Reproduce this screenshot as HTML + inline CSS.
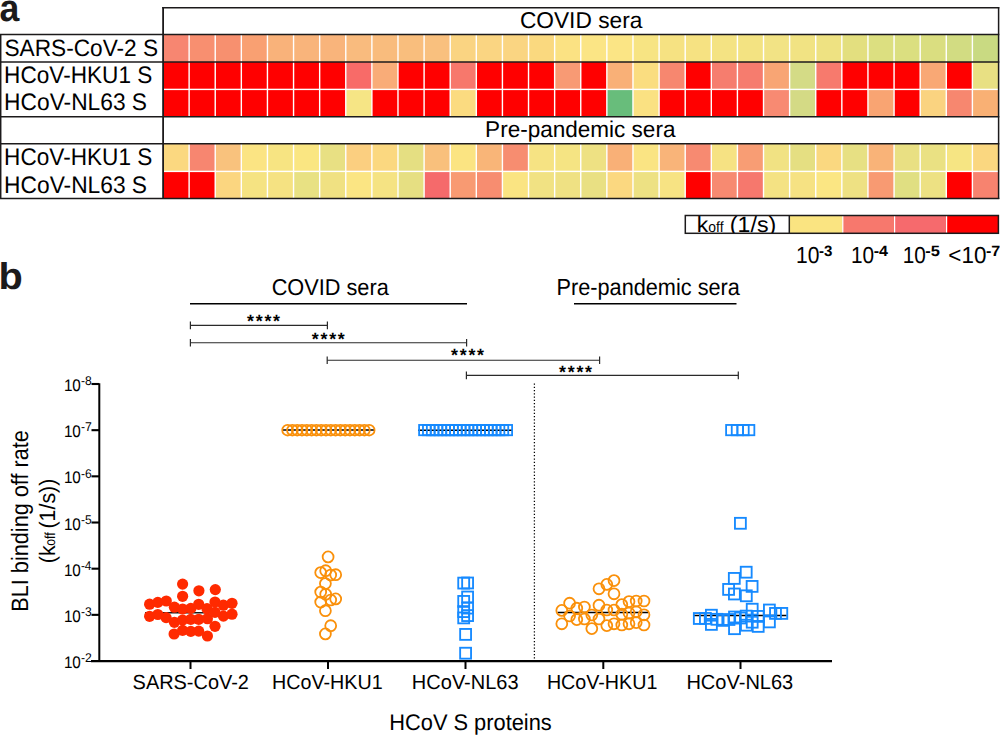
<!DOCTYPE html>
<html><head><meta charset="utf-8"><style>
html,body{margin:0;padding:0;background:#fff;width:1000px;height:735px;overflow:hidden;font-family:"Liberation Sans",sans-serif;}
svg{display:block;}
</style></head><body>
<svg width="1000" height="735" viewBox="0 0 1000 735" style="text-rendering:geometricPrecision">
<rect width="1000" height="735" fill="#fff"/>
<text transform="translate(-0.46,21.00) scale(0.9383,1.0000)" font-family="Liberation Sans, sans-serif" font-size="38" font-weight="bold" fill="#1C1A1B">a</text>
<text transform="translate(-1.61,288.50) scale(1.0458,0.9850)" font-family="Liberation Sans, sans-serif" font-size="38" font-weight="bold" fill="#1C1A1B">b</text>
<rect x="163.00" y="34.5" width="26.16" height="27.5" fill="#F78671"/>
<rect x="189.11" y="34.5" width="26.16" height="27.5" fill="#F88F70"/>
<rect x="215.22" y="34.5" width="26.16" height="27.5" fill="#F7906F"/>
<rect x="241.33" y="34.5" width="26.16" height="27.5" fill="#F9A072"/>
<rect x="267.44" y="34.5" width="26.16" height="27.5" fill="#F9B27A"/>
<rect x="293.55" y="34.5" width="26.16" height="27.5" fill="#F9B47B"/>
<rect x="319.66" y="34.5" width="26.16" height="27.5" fill="#F9B47B"/>
<rect x="345.77" y="34.5" width="26.16" height="27.5" fill="#F9BB7E"/>
<rect x="371.88" y="34.5" width="26.16" height="27.5" fill="#F9BC7D"/>
<rect x="397.98" y="34.5" width="26.16" height="27.5" fill="#F9BE7D"/>
<rect x="424.09" y="34.5" width="26.16" height="27.5" fill="#F9C07E"/>
<rect x="450.20" y="34.5" width="26.16" height="27.5" fill="#FAD482"/>
<rect x="476.31" y="34.5" width="26.16" height="27.5" fill="#FAD582"/>
<rect x="502.42" y="34.5" width="26.16" height="27.5" fill="#FAD582"/>
<rect x="528.53" y="34.5" width="26.16" height="27.5" fill="#FAD97F"/>
<rect x="554.64" y="34.5" width="26.16" height="27.5" fill="#FBE283"/>
<rect x="580.75" y="34.5" width="26.16" height="27.5" fill="#FBE585"/>
<rect x="606.86" y="34.5" width="26.16" height="27.5" fill="#FBE585"/>
<rect x="632.97" y="34.5" width="26.16" height="27.5" fill="#F7E483"/>
<rect x="659.08" y="34.5" width="26.16" height="27.5" fill="#F6E282"/>
<rect x="685.19" y="34.5" width="26.16" height="27.5" fill="#F6E282"/>
<rect x="711.30" y="34.5" width="26.16" height="27.5" fill="#F4E383"/>
<rect x="737.41" y="34.5" width="26.16" height="27.5" fill="#F3E382"/>
<rect x="763.52" y="34.5" width="26.16" height="27.5" fill="#F2E385"/>
<rect x="789.62" y="34.5" width="26.16" height="27.5" fill="#F1E383"/>
<rect x="815.73" y="34.5" width="26.16" height="27.5" fill="#EEE282"/>
<rect x="841.84" y="34.5" width="26.16" height="27.5" fill="#E3DF7F"/>
<rect x="867.95" y="34.5" width="26.16" height="27.5" fill="#DCDF80"/>
<rect x="894.06" y="34.5" width="26.16" height="27.5" fill="#DBDF80"/>
<rect x="920.17" y="34.5" width="26.16" height="27.5" fill="#DADE80"/>
<rect x="946.28" y="34.5" width="26.16" height="27.5" fill="#D2DC82"/>
<rect x="972.39" y="34.5" width="26.16" height="27.5" fill="#C9DA82"/>
<rect x="163.00" y="62.0" width="26.16" height="27.0" fill="#FF0000"/>
<rect x="189.11" y="62.0" width="26.16" height="27.0" fill="#FF0000"/>
<rect x="215.22" y="62.0" width="26.16" height="27.0" fill="#FF0000"/>
<rect x="241.33" y="62.0" width="26.16" height="27.0" fill="#FF0000"/>
<rect x="267.44" y="62.0" width="26.16" height="27.0" fill="#FF0000"/>
<rect x="293.55" y="62.0" width="26.16" height="27.0" fill="#FF0000"/>
<rect x="319.66" y="62.0" width="26.16" height="27.0" fill="#FF0000"/>
<rect x="345.77" y="62.0" width="26.16" height="27.0" fill="#F86B68"/>
<rect x="371.88" y="62.0" width="26.16" height="27.0" fill="#F9AC78"/>
<rect x="397.98" y="62.0" width="26.16" height="27.0" fill="#FF0000"/>
<rect x="424.09" y="62.0" width="26.16" height="27.0" fill="#FF0000"/>
<rect x="450.20" y="62.0" width="26.16" height="27.0" fill="#F7786C"/>
<rect x="476.31" y="62.0" width="26.16" height="27.0" fill="#FF0000"/>
<rect x="502.42" y="62.0" width="26.16" height="27.0" fill="#FF0000"/>
<rect x="528.53" y="62.0" width="26.16" height="27.0" fill="#FF0000"/>
<rect x="554.64" y="62.0" width="26.16" height="27.0" fill="#F89A74"/>
<rect x="580.75" y="62.0" width="26.16" height="27.0" fill="#FF0000"/>
<rect x="606.86" y="62.0" width="26.16" height="27.0" fill="#F9B077"/>
<rect x="632.97" y="62.0" width="26.16" height="27.0" fill="#FADD80"/>
<rect x="659.08" y="62.0" width="26.16" height="27.0" fill="#F7876F"/>
<rect x="685.19" y="62.0" width="26.16" height="27.0" fill="#FF0000"/>
<rect x="711.30" y="62.0" width="26.16" height="27.0" fill="#F67D6E"/>
<rect x="737.41" y="62.0" width="26.16" height="27.0" fill="#F67C6E"/>
<rect x="763.52" y="62.0" width="26.16" height="27.0" fill="#F8A574"/>
<rect x="789.62" y="62.0" width="26.16" height="27.0" fill="#D4DB86"/>
<rect x="815.73" y="62.0" width="26.16" height="27.0" fill="#F77A6D"/>
<rect x="841.84" y="62.0" width="26.16" height="27.0" fill="#FF0000"/>
<rect x="867.95" y="62.0" width="26.16" height="27.0" fill="#FF0000"/>
<rect x="894.06" y="62.0" width="26.16" height="27.0" fill="#FF0000"/>
<rect x="920.17" y="62.0" width="26.16" height="27.0" fill="#F9A875"/>
<rect x="946.28" y="62.0" width="26.16" height="27.0" fill="#FF0000"/>
<rect x="972.39" y="62.0" width="26.16" height="27.0" fill="#E8E083"/>
<rect x="163.00" y="89.0" width="26.16" height="27.5" fill="#FF0000"/>
<rect x="189.11" y="89.0" width="26.16" height="27.5" fill="#FF0000"/>
<rect x="215.22" y="89.0" width="26.16" height="27.5" fill="#FF0000"/>
<rect x="241.33" y="89.0" width="26.16" height="27.5" fill="#FF0000"/>
<rect x="267.44" y="89.0" width="26.16" height="27.5" fill="#FF0000"/>
<rect x="293.55" y="89.0" width="26.16" height="27.5" fill="#FF0000"/>
<rect x="319.66" y="89.0" width="26.16" height="27.5" fill="#FF0000"/>
<rect x="345.77" y="89.0" width="26.16" height="27.5" fill="#F6E585"/>
<rect x="371.88" y="89.0" width="26.16" height="27.5" fill="#FF0000"/>
<rect x="397.98" y="89.0" width="26.16" height="27.5" fill="#FF0000"/>
<rect x="424.09" y="89.0" width="26.16" height="27.5" fill="#FF0000"/>
<rect x="450.20" y="89.0" width="26.16" height="27.5" fill="#FBDB80"/>
<rect x="476.31" y="89.0" width="26.16" height="27.5" fill="#FF0000"/>
<rect x="502.42" y="89.0" width="26.16" height="27.5" fill="#FF0000"/>
<rect x="528.53" y="89.0" width="26.16" height="27.5" fill="#FF0000"/>
<rect x="554.64" y="89.0" width="26.16" height="27.5" fill="#FF0000"/>
<rect x="580.75" y="89.0" width="26.16" height="27.5" fill="#FF0000"/>
<rect x="606.86" y="89.0" width="26.16" height="27.5" fill="#68BD7B"/>
<rect x="632.97" y="89.0" width="26.16" height="27.5" fill="#FAE182"/>
<rect x="659.08" y="89.0" width="26.16" height="27.5" fill="#FF0000"/>
<rect x="685.19" y="89.0" width="26.16" height="27.5" fill="#FF0000"/>
<rect x="711.30" y="89.0" width="26.16" height="27.5" fill="#FF0000"/>
<rect x="737.41" y="89.0" width="26.16" height="27.5" fill="#FF0000"/>
<rect x="763.52" y="89.0" width="26.16" height="27.5" fill="#F88A72"/>
<rect x="789.62" y="89.0" width="26.16" height="27.5" fill="#D4DA85"/>
<rect x="815.73" y="89.0" width="26.16" height="27.5" fill="#FF0000"/>
<rect x="841.84" y="89.0" width="26.16" height="27.5" fill="#FF0000"/>
<rect x="867.95" y="89.0" width="26.16" height="27.5" fill="#F9A472"/>
<rect x="894.06" y="89.0" width="26.16" height="27.5" fill="#FF0000"/>
<rect x="920.17" y="89.0" width="26.16" height="27.5" fill="#FAD380"/>
<rect x="946.28" y="89.0" width="26.16" height="27.5" fill="#F7876F"/>
<rect x="972.39" y="89.0" width="26.16" height="27.5" fill="#F9B074"/>
<rect x="163.00" y="144.0" width="26.16" height="27.0" fill="#FBD880"/>
<rect x="189.11" y="144.0" width="26.16" height="27.0" fill="#F78670"/>
<rect x="215.22" y="144.0" width="26.16" height="27.0" fill="#F9C27D"/>
<rect x="241.33" y="144.0" width="26.16" height="27.0" fill="#FBE483"/>
<rect x="267.44" y="144.0" width="26.16" height="27.0" fill="#F7E482"/>
<rect x="293.55" y="144.0" width="26.16" height="27.0" fill="#FAE682"/>
<rect x="319.66" y="144.0" width="26.16" height="27.0" fill="#E8E083"/>
<rect x="345.77" y="144.0" width="26.16" height="27.0" fill="#FBCF80"/>
<rect x="371.88" y="144.0" width="26.16" height="27.0" fill="#FBD880"/>
<rect x="397.98" y="144.0" width="26.16" height="27.0" fill="#E5DF82"/>
<rect x="424.09" y="144.0" width="26.16" height="27.0" fill="#F9C07C"/>
<rect x="450.20" y="144.0" width="26.16" height="27.0" fill="#FBE482"/>
<rect x="476.31" y="144.0" width="26.16" height="27.0" fill="#F9B578"/>
<rect x="502.42" y="144.0" width="26.16" height="27.0" fill="#F78D70"/>
<rect x="528.53" y="144.0" width="26.16" height="27.0" fill="#F6E383"/>
<rect x="554.64" y="144.0" width="26.16" height="27.0" fill="#F5E483"/>
<rect x="580.75" y="144.0" width="26.16" height="27.0" fill="#EEE183"/>
<rect x="606.86" y="144.0" width="26.16" height="27.0" fill="#F9B077"/>
<rect x="632.97" y="144.0" width="26.16" height="27.0" fill="#FAE483"/>
<rect x="659.08" y="144.0" width="26.16" height="27.0" fill="#F9B479"/>
<rect x="685.19" y="144.0" width="26.16" height="27.0" fill="#F78A71"/>
<rect x="711.30" y="144.0" width="26.16" height="27.0" fill="#F6E283"/>
<rect x="737.41" y="144.0" width="26.16" height="27.0" fill="#F89D74"/>
<rect x="763.52" y="144.0" width="26.16" height="27.0" fill="#F1E283"/>
<rect x="789.62" y="144.0" width="26.16" height="27.0" fill="#E5DF82"/>
<rect x="815.73" y="144.0" width="26.16" height="27.0" fill="#FAD880"/>
<rect x="841.84" y="144.0" width="26.16" height="27.0" fill="#E7E083"/>
<rect x="867.95" y="144.0" width="26.16" height="27.0" fill="#F9B378"/>
<rect x="894.06" y="144.0" width="26.16" height="27.0" fill="#E9E083"/>
<rect x="920.17" y="144.0" width="26.16" height="27.0" fill="#EAE183"/>
<rect x="946.28" y="144.0" width="26.16" height="27.0" fill="#F6E583"/>
<rect x="972.39" y="144.0" width="26.16" height="27.0" fill="#FAD780"/>
<rect x="163.00" y="171.0" width="26.16" height="27.0" fill="#FF0000"/>
<rect x="189.11" y="171.0" width="26.16" height="27.0" fill="#FF0000"/>
<rect x="215.22" y="171.0" width="26.16" height="27.0" fill="#FBD680"/>
<rect x="241.33" y="171.0" width="26.16" height="27.0" fill="#F5E382"/>
<rect x="267.44" y="171.0" width="26.16" height="27.0" fill="#F5E282"/>
<rect x="293.55" y="171.0" width="26.16" height="27.0" fill="#E8E183"/>
<rect x="319.66" y="171.0" width="26.16" height="27.0" fill="#F0E182"/>
<rect x="345.77" y="171.0" width="26.16" height="27.0" fill="#FBE583"/>
<rect x="371.88" y="171.0" width="26.16" height="27.0" fill="#F5E383"/>
<rect x="397.98" y="171.0" width="26.16" height="27.0" fill="#E6DF82"/>
<rect x="424.09" y="171.0" width="26.16" height="27.0" fill="#F56A6B"/>
<rect x="450.20" y="171.0" width="26.16" height="27.0" fill="#F89A72"/>
<rect x="476.31" y="171.0" width="26.16" height="27.0" fill="#F78D70"/>
<rect x="502.42" y="171.0" width="26.16" height="27.0" fill="#FAE482"/>
<rect x="528.53" y="171.0" width="26.16" height="27.0" fill="#F1E283"/>
<rect x="554.64" y="171.0" width="26.16" height="27.0" fill="#EFE183"/>
<rect x="580.75" y="171.0" width="26.16" height="27.0" fill="#E9E083"/>
<rect x="606.86" y="171.0" width="26.16" height="27.0" fill="#FBD880"/>
<rect x="632.97" y="171.0" width="26.16" height="27.0" fill="#EDE183"/>
<rect x="659.08" y="171.0" width="26.16" height="27.0" fill="#F7E383"/>
<rect x="685.19" y="171.0" width="26.16" height="27.0" fill="#FF0000"/>
<rect x="711.30" y="171.0" width="26.16" height="27.0" fill="#F78A71"/>
<rect x="737.41" y="171.0" width="26.16" height="27.0" fill="#F6786D"/>
<rect x="763.52" y="171.0" width="26.16" height="27.0" fill="#F4E283"/>
<rect x="789.62" y="171.0" width="26.16" height="27.0" fill="#F6E283"/>
<rect x="815.73" y="171.0" width="26.16" height="27.0" fill="#FBE683"/>
<rect x="841.84" y="171.0" width="26.16" height="27.0" fill="#EEE183"/>
<rect x="867.95" y="171.0" width="26.16" height="27.0" fill="#F89A72"/>
<rect x="894.06" y="171.0" width="26.16" height="27.0" fill="#E0DF82"/>
<rect x="920.17" y="171.0" width="26.16" height="27.0" fill="#EDE183"/>
<rect x="946.28" y="171.0" width="26.16" height="27.0" fill="#FF0000"/>
<rect x="972.39" y="171.0" width="26.16" height="27.0" fill="#F7836F"/>
<rect x="188.41" y="34.5" width="1.4" height="82.0" fill="#fff"/>
<rect x="188.41" y="144" width="1.4" height="54" fill="#fff"/>
<rect x="214.52" y="34.5" width="1.4" height="82.0" fill="#fff"/>
<rect x="214.52" y="144" width="1.4" height="54" fill="#fff"/>
<rect x="240.63" y="34.5" width="1.4" height="82.0" fill="#fff"/>
<rect x="240.63" y="144" width="1.4" height="54" fill="#fff"/>
<rect x="266.74" y="34.5" width="1.4" height="82.0" fill="#fff"/>
<rect x="266.74" y="144" width="1.4" height="54" fill="#fff"/>
<rect x="292.85" y="34.5" width="1.4" height="82.0" fill="#fff"/>
<rect x="292.85" y="144" width="1.4" height="54" fill="#fff"/>
<rect x="318.96" y="34.5" width="1.4" height="82.0" fill="#fff"/>
<rect x="318.96" y="144" width="1.4" height="54" fill="#fff"/>
<rect x="345.07" y="34.5" width="1.4" height="82.0" fill="#fff"/>
<rect x="345.07" y="144" width="1.4" height="54" fill="#fff"/>
<rect x="371.18" y="34.5" width="1.4" height="82.0" fill="#fff"/>
<rect x="371.18" y="144" width="1.4" height="54" fill="#fff"/>
<rect x="397.28" y="34.5" width="1.4" height="82.0" fill="#fff"/>
<rect x="397.28" y="144" width="1.4" height="54" fill="#fff"/>
<rect x="423.39" y="34.5" width="1.4" height="82.0" fill="#fff"/>
<rect x="423.39" y="144" width="1.4" height="54" fill="#fff"/>
<rect x="449.50" y="34.5" width="1.4" height="82.0" fill="#fff"/>
<rect x="449.50" y="144" width="1.4" height="54" fill="#fff"/>
<rect x="475.61" y="34.5" width="1.4" height="82.0" fill="#fff"/>
<rect x="475.61" y="144" width="1.4" height="54" fill="#fff"/>
<rect x="501.72" y="34.5" width="1.4" height="82.0" fill="#fff"/>
<rect x="501.72" y="144" width="1.4" height="54" fill="#fff"/>
<rect x="527.83" y="34.5" width="1.4" height="82.0" fill="#fff"/>
<rect x="527.83" y="144" width="1.4" height="54" fill="#fff"/>
<rect x="553.94" y="34.5" width="1.4" height="82.0" fill="#fff"/>
<rect x="553.94" y="144" width="1.4" height="54" fill="#fff"/>
<rect x="580.05" y="34.5" width="1.4" height="82.0" fill="#fff"/>
<rect x="580.05" y="144" width="1.4" height="54" fill="#fff"/>
<rect x="606.16" y="34.5" width="1.4" height="82.0" fill="#fff"/>
<rect x="606.16" y="144" width="1.4" height="54" fill="#fff"/>
<rect x="632.27" y="34.5" width="1.4" height="82.0" fill="#fff"/>
<rect x="632.27" y="144" width="1.4" height="54" fill="#fff"/>
<rect x="658.38" y="34.5" width="1.4" height="82.0" fill="#fff"/>
<rect x="658.38" y="144" width="1.4" height="54" fill="#fff"/>
<rect x="684.49" y="34.5" width="1.4" height="82.0" fill="#fff"/>
<rect x="684.49" y="144" width="1.4" height="54" fill="#fff"/>
<rect x="710.60" y="34.5" width="1.4" height="82.0" fill="#fff"/>
<rect x="710.60" y="144" width="1.4" height="54" fill="#fff"/>
<rect x="736.71" y="34.5" width="1.4" height="82.0" fill="#fff"/>
<rect x="736.71" y="144" width="1.4" height="54" fill="#fff"/>
<rect x="762.82" y="34.5" width="1.4" height="82.0" fill="#fff"/>
<rect x="762.82" y="144" width="1.4" height="54" fill="#fff"/>
<rect x="788.92" y="34.5" width="1.4" height="82.0" fill="#fff"/>
<rect x="788.92" y="144" width="1.4" height="54" fill="#fff"/>
<rect x="815.03" y="34.5" width="1.4" height="82.0" fill="#fff"/>
<rect x="815.03" y="144" width="1.4" height="54" fill="#fff"/>
<rect x="841.14" y="34.5" width="1.4" height="82.0" fill="#fff"/>
<rect x="841.14" y="144" width="1.4" height="54" fill="#fff"/>
<rect x="867.25" y="34.5" width="1.4" height="82.0" fill="#fff"/>
<rect x="867.25" y="144" width="1.4" height="54" fill="#fff"/>
<rect x="893.36" y="34.5" width="1.4" height="82.0" fill="#fff"/>
<rect x="893.36" y="144" width="1.4" height="54" fill="#fff"/>
<rect x="919.47" y="34.5" width="1.4" height="82.0" fill="#fff"/>
<rect x="919.47" y="144" width="1.4" height="54" fill="#fff"/>
<rect x="945.58" y="34.5" width="1.4" height="82.0" fill="#fff"/>
<rect x="945.58" y="144" width="1.4" height="54" fill="#fff"/>
<rect x="971.69" y="34.5" width="1.4" height="82.0" fill="#fff"/>
<rect x="971.69" y="144" width="1.4" height="54" fill="#fff"/>
<rect x="163.0" y="88.7" width="835.5" height="1.4" fill="#fff"/>
<rect x="163.0" y="170.70000000000002" width="835.5" height="1.4" fill="#fff"/>
<line x1="162.2" y1="7.8" x2="999.3" y2="7.8" stroke="#1C1A1B" stroke-width="1.5"/>
<line x1="0" y1="34.6" x2="999.3" y2="34.6" stroke="#1C1A1B" stroke-width="1.5"/>
<line x1="0" y1="62.0" x2="999.3" y2="62.0" stroke="#1C1A1B" stroke-width="1.5"/>
<line x1="0" y1="116.8" x2="999.3" y2="116.8" stroke="#1C1A1B" stroke-width="1.5"/>
<line x1="0" y1="143.8" x2="999.3" y2="143.8" stroke="#1C1A1B" stroke-width="1.5"/>
<line x1="0" y1="198.4" x2="999.3" y2="198.4" stroke="#1C1A1B" stroke-width="1.5"/>
<line x1="163.1" y1="7" x2="163.1" y2="199" stroke="#1C1A1B" stroke-width="1.8"/>
<line x1="998.6" y1="7" x2="998.6" y2="199" stroke="#1C1A1B" stroke-width="1.5"/>
<line x1="0.7" y1="34" x2="0.7" y2="199" stroke="#1C1A1B" stroke-width="1.5"/>
<text transform="translate(519.88,28.40) scale(0.9992,1.0097)" font-family="Liberation Sans, sans-serif" font-size="22.745" font-weight="normal" fill="#000">COVID sera</text>
<text transform="translate(485.12,137.40) scale(1.0005,1.0190)" font-family="Liberation Sans, sans-serif" font-size="22.536" font-weight="normal" fill="#000">Pre-pandemic sera</text>
<text transform="translate(4.40,55.80) scale(0.9995,1.0373)" font-family="Liberation Sans, sans-serif" font-size="22.699" font-weight="normal" fill="#000">SARS-CoV-2 S</text>
<text transform="translate(4.12,83.00) scale(1.0002,1.0544)" font-family="Liberation Sans, sans-serif" font-size="22.608" font-weight="normal" fill="#000">HCoV-HKU1 S</text>
<text transform="translate(4.12,110.30) scale(1.0009,1.0482)" font-family="Liberation Sans, sans-serif" font-size="22.741" font-weight="normal" fill="#000">HCoV-NL63 S</text>
<text transform="translate(4.12,165.00) scale(1.0002,1.0608)" font-family="Liberation Sans, sans-serif" font-size="22.608" font-weight="normal" fill="#000">HCoV-HKU1 S</text>
<text transform="translate(4.12,192.50) scale(1.0009,1.0482)" font-family="Liberation Sans, sans-serif" font-size="22.741" font-weight="normal" fill="#000">HCoV-NL63 S</text>
<rect x="789.6" y="215.5" width="53.19999999999993" height="17.80000000000001" fill="#FAE481"/>
<rect x="842.8" y="215.5" width="51.80000000000007" height="17.80000000000001" fill="#F7786D"/>
<rect x="894.6" y="215.5" width="52.0" height="17.80000000000001" fill="#F66A6D"/>
<rect x="946.6" y="215.5" width="51.799999999999955" height="17.80000000000001" fill="#FF0000"/>
<rect x="842.1999999999999" y="215.5" width="1.2" height="17.80000000000001" fill="#fff"/>
<rect x="894.0" y="215.5" width="1.2" height="17.80000000000001" fill="#fff"/>
<rect x="946.0" y="215.5" width="1.2" height="17.80000000000001" fill="#fff"/>
<defs><clipPath id="lgc"><rect x="685.3" y="215.6" width="104" height="17.6"/></clipPath></defs>
<g clip-path="url(#lgc)">
<text transform="translate(696.74,231.80) scale(1.0421,1.0000)" font-family="Liberation Sans, sans-serif" font-size="22" font-weight="normal" fill="#000">k</text>
<text transform="translate(708.29,231.80) scale(0.9815,1.0450)" font-family="Liberation Sans, sans-serif" font-size="14.2" font-weight="normal" fill="#000">off</text>
<text transform="translate(729.85,231.80) scale(1.0545,1.0000)" font-family="Liberation Sans, sans-serif" font-size="22" font-weight="normal" fill="#000">(1/s)</text>
</g>
<rect x="685.3" y="215.5" width="313.1" height="17.80000000000001" fill="none" stroke="#1C1A1B" stroke-width="1.5"/>
<line x1="789.3" y1="215.5" x2="789.3" y2="233.3" stroke="#1C1A1B" stroke-width="1.5"/>
<text transform="translate(795.96,263.20) scale(1.0072,1.1127)" font-family="Liberation Sans, sans-serif" font-size="20.9" font-weight="normal" fill="#000">10</text>
<text transform="translate(818.90,255.60) scale(1.2049,1.2000)" font-family="Liberation Sans, sans-serif" font-size="12.5" font-weight="bold" fill="#000">-3</text>
<text transform="translate(850.97,263.20) scale(1.0036,1.1235)" font-family="Liberation Sans, sans-serif" font-size="20.7" font-weight="normal" fill="#000">10</text>
<text transform="translate(873.66,255.60) scale(1.2857,1.2000)" font-family="Liberation Sans, sans-serif" font-size="12.5" font-weight="bold" fill="#000">-4</text>
<text transform="translate(902.67,263.20) scale(1.0036,1.1235)" font-family="Liberation Sans, sans-serif" font-size="20.7" font-weight="normal" fill="#000">10</text>
<text transform="translate(925.34,255.60) scale(1.3171,1.2000)" font-family="Liberation Sans, sans-serif" font-size="12.5" font-weight="bold" fill="#000">-5</text>
<text transform="translate(948.28,263.20) scale(0.9993,1.0347)" font-family="Liberation Sans, sans-serif" font-size="22.475" font-weight="normal" fill="#000">&lt;10</text>
<text transform="translate(985.96,255.60) scale(1.2900,1.2000)" font-family="Liberation Sans, sans-serif" font-size="12.5" font-weight="bold" fill="#000">-7</text>
<text transform="translate(271.68,295.30) scale(1.0000,1.0500)" font-family="Liberation Sans, sans-serif" font-size="21.733" font-weight="normal" fill="#000">COVID sera</text>
<text transform="translate(556.50,295.10) scale(1.0000,1.0708)" font-family="Liberation Sans, sans-serif" font-size="21.718" font-weight="normal" fill="#000">Pre-pandemic sera</text>
<line x1="190" y1="303.8" x2="467" y2="303.8" stroke="#000" stroke-width="1.6"/>
<line x1="574" y1="303.8" x2="736.5" y2="303.8" stroke="#000" stroke-width="1.6"/>
<line x1="190.4" y1="325.4" x2="327.4" y2="325.4" stroke="#2a2a2a" stroke-width="1.1"/>
<line x1="190.4" y1="321.59999999999997" x2="190.4" y2="329.2" stroke="#2a2a2a" stroke-width="1.2"/>
<line x1="327.4" y1="321.59999999999997" x2="327.4" y2="329.2" stroke="#2a2a2a" stroke-width="1.2"/>
<line x1="190.4" y1="342.75" x2="466.6" y2="342.75" stroke="#2a2a2a" stroke-width="1.1"/>
<line x1="190.4" y1="338.95" x2="190.4" y2="346.55" stroke="#2a2a2a" stroke-width="1.2"/>
<line x1="466.6" y1="338.95" x2="466.6" y2="346.55" stroke="#2a2a2a" stroke-width="1.2"/>
<line x1="327.2" y1="360.3" x2="599.6" y2="360.3" stroke="#2a2a2a" stroke-width="1.1"/>
<line x1="327.2" y1="356.5" x2="327.2" y2="364.1" stroke="#2a2a2a" stroke-width="1.2"/>
<line x1="599.6" y1="356.5" x2="599.6" y2="364.1" stroke="#2a2a2a" stroke-width="1.2"/>
<line x1="466.4" y1="375.4" x2="738.3" y2="375.4" stroke="#2a2a2a" stroke-width="1.1"/>
<line x1="466.4" y1="371.59999999999997" x2="466.4" y2="379.2" stroke="#2a2a2a" stroke-width="1.2"/>
<line x1="738.3" y1="371.59999999999997" x2="738.3" y2="379.2" stroke="#2a2a2a" stroke-width="1.2"/>
<text x="247.05" y="326.80" font-family="Liberation Sans, sans-serif" font-weight="bold" font-size="17.8" fill="#000">*</text>
<text x="255.72" y="326.80" font-family="Liberation Sans, sans-serif" font-weight="bold" font-size="17.8" fill="#000">*</text>
<text x="264.39" y="326.80" font-family="Liberation Sans, sans-serif" font-weight="bold" font-size="17.8" fill="#000">*</text>
<text x="273.06" y="326.80" font-family="Liberation Sans, sans-serif" font-weight="bold" font-size="17.8" fill="#000">*</text>
<text x="311.80" y="344.80" font-family="Liberation Sans, sans-serif" font-weight="bold" font-size="17.8" fill="#000">*</text>
<text x="320.47" y="344.80" font-family="Liberation Sans, sans-serif" font-weight="bold" font-size="17.8" fill="#000">*</text>
<text x="329.14" y="344.80" font-family="Liberation Sans, sans-serif" font-weight="bold" font-size="17.8" fill="#000">*</text>
<text x="337.81" y="344.80" font-family="Liberation Sans, sans-serif" font-weight="bold" font-size="17.8" fill="#000">*</text>
<text x="451.05" y="360.80" font-family="Liberation Sans, sans-serif" font-weight="bold" font-size="17.8" fill="#000">*</text>
<text x="459.72" y="360.80" font-family="Liberation Sans, sans-serif" font-weight="bold" font-size="17.8" fill="#000">*</text>
<text x="468.39" y="360.80" font-family="Liberation Sans, sans-serif" font-weight="bold" font-size="17.8" fill="#000">*</text>
<text x="477.06" y="360.80" font-family="Liberation Sans, sans-serif" font-weight="bold" font-size="17.8" fill="#000">*</text>
<text x="559.05" y="377.80" font-family="Liberation Sans, sans-serif" font-weight="bold" font-size="17.8" fill="#000">*</text>
<text x="567.72" y="377.80" font-family="Liberation Sans, sans-serif" font-weight="bold" font-size="17.8" fill="#000">*</text>
<text x="576.39" y="377.80" font-family="Liberation Sans, sans-serif" font-weight="bold" font-size="17.8" fill="#000">*</text>
<text x="585.06" y="377.80" font-family="Liberation Sans, sans-serif" font-weight="bold" font-size="17.8" fill="#000">*</text>
<line x1="99.3" y1="383.2" x2="99.3" y2="662" stroke="#000" stroke-width="2.0"/>
<line x1="91" y1="661.2" x2="832" y2="661.2" stroke="#000" stroke-width="2.2"/>
<line x1="91.5" y1="384.0" x2="99" y2="384.0" stroke="#000" stroke-width="2.1"/>
<text transform="translate(63.88,391.00) scale(1.0000,1.0961)" font-family="Liberation Sans, sans-serif" font-size="15.25" font-weight="normal" fill="#000">10</text>
<text transform="translate(80.89,385.30) scale(1.0211,1.0700)" font-family="Liberation Sans, sans-serif" font-size="11.8" font-weight="normal" fill="#000">-8</text>
<line x1="91.5" y1="430.17" x2="99" y2="430.17" stroke="#000" stroke-width="2.1"/>
<text transform="translate(63.88,437.17) scale(1.0000,1.0961)" font-family="Liberation Sans, sans-serif" font-size="15.25" font-weight="normal" fill="#000">10</text>
<text transform="translate(80.88,431.47) scale(1.0347,1.0700)" font-family="Liberation Sans, sans-serif" font-size="11.8" font-weight="normal" fill="#000">-7</text>
<line x1="91.5" y1="476.34000000000003" x2="99" y2="476.34000000000003" stroke="#000" stroke-width="2.1"/>
<text transform="translate(63.88,483.34) scale(1.0000,1.0961)" font-family="Liberation Sans, sans-serif" font-size="15.25" font-weight="normal" fill="#000">10</text>
<text transform="translate(80.89,477.64) scale(1.0211,1.0700)" font-family="Liberation Sans, sans-serif" font-size="11.8" font-weight="normal" fill="#000">-6</text>
<line x1="91.5" y1="522.51" x2="99" y2="522.51" stroke="#000" stroke-width="2.1"/>
<text transform="translate(63.88,529.51) scale(1.0000,1.0961)" font-family="Liberation Sans, sans-serif" font-size="15.25" font-weight="normal" fill="#000">10</text>
<text transform="translate(80.89,523.81) scale(1.0211,1.0700)" font-family="Liberation Sans, sans-serif" font-size="11.8" font-weight="normal" fill="#000">-5</text>
<line x1="91.5" y1="568.6800000000001" x2="99" y2="568.6800000000001" stroke="#000" stroke-width="2.1"/>
<text transform="translate(63.88,575.68) scale(1.0000,1.0961)" font-family="Liberation Sans, sans-serif" font-size="15.25" font-weight="normal" fill="#000">10</text>
<text transform="translate(80.90,569.98) scale(1.0078,1.0700)" font-family="Liberation Sans, sans-serif" font-size="11.8" font-weight="normal" fill="#000">-4</text>
<line x1="91.5" y1="614.85" x2="99" y2="614.85" stroke="#000" stroke-width="2.1"/>
<text transform="translate(63.88,621.85) scale(1.0000,1.0961)" font-family="Liberation Sans, sans-serif" font-size="15.25" font-weight="normal" fill="#000">10</text>
<text transform="translate(80.89,616.15) scale(1.0211,1.0700)" font-family="Liberation Sans, sans-serif" font-size="11.8" font-weight="normal" fill="#000">-3</text>
<text transform="translate(63.88,668.02) scale(1.0000,1.0961)" font-family="Liberation Sans, sans-serif" font-size="15.25" font-weight="normal" fill="#000">10</text>
<text transform="translate(80.88,662.32) scale(1.0347,1.0700)" font-family="Liberation Sans, sans-serif" font-size="11.8" font-weight="normal" fill="#000">-2</text>
<line x1="190.5" y1="661" x2="190.5" y2="669" stroke="#000" stroke-width="2.0"/>
<line x1="328" y1="661" x2="328" y2="669" stroke="#000" stroke-width="2.0"/>
<line x1="465.5" y1="661" x2="465.5" y2="669" stroke="#000" stroke-width="2.0"/>
<line x1="603.3" y1="661" x2="603.3" y2="669" stroke="#000" stroke-width="2.0"/>
<line x1="740.5" y1="661" x2="740.5" y2="669" stroke="#000" stroke-width="2.0"/>
<text transform="translate(132.60,689.30) scale(1.0002,1.0206)" font-family="Liberation Sans, sans-serif" font-size="19.939" font-weight="normal" fill="#000">SARS-CoV-2</text>
<text transform="translate(271.98,689.30) scale(0.9995,1.0308)" font-family="Liberation Sans, sans-serif" font-size="19.74" font-weight="normal" fill="#000">HCoV-HKU1</text>
<text transform="translate(411.87,689.30) scale(1.0007,1.0180)" font-family="Liberation Sans, sans-serif" font-size="19.99" font-weight="normal" fill="#000">HCoV-NL63</text>
<text transform="translate(546.88,689.30) scale(1.0000,1.0327)" font-family="Liberation Sans, sans-serif" font-size="19.704" font-weight="normal" fill="#000">HCoV-HKU1</text>
<text transform="translate(686.38,689.30) scale(1.0000,1.0150)" font-family="Liberation Sans, sans-serif" font-size="20.048" font-weight="normal" fill="#000">HCoV-NL63</text>
<text transform="translate(389.25,730.00) scale(1.0000,1.0390)" font-family="Liberation Sans, sans-serif" font-size="21.824" font-weight="normal" fill="#000">HCoV S proteins</text>
<text transform="translate(28.30,611.75) rotate(-90) scale(1.0000,1.0919)" font-family="Liberation Sans, sans-serif" font-size="21.697" font-weight="normal" fill="#000">BLI binding off rate</text>
<text transform="translate(54.80,563.21) rotate(-90) scale(0.9507,1.0000)" font-family="Liberation Sans, sans-serif" font-size="22.4" font-weight="normal" fill="#000">(k</text>
<text transform="translate(54.80,545.83) rotate(-90) scale(0.8459,1.0000)" font-family="Liberation Sans, sans-serif" font-size="14.5" font-weight="normal" fill="#000">off</text>
<text transform="translate(54.80,528.51) rotate(-90) scale(0.9535,1.0000)" font-family="Liberation Sans, sans-serif" font-size="22.4" font-weight="normal" fill="#000">(1/s))</text>
<line x1="534.4" y1="383.4" x2="534.4" y2="659" stroke="#000" stroke-width="1.25" stroke-dasharray="1.25,2.01"/>
<line x1="145" y1="612.8" x2="236" y2="612.8" stroke="#1a1a1a" stroke-width="1.5"/>
<circle cx="182.6" cy="584.1" r="5.6" fill="#FF2A00"/>
<circle cx="182.6" cy="596.3" r="5.6" fill="#FF2A00"/>
<circle cx="198.9" cy="590.8" r="5.6" fill="#FF2A00"/>
<circle cx="215.3" cy="589.6" r="5.6" fill="#FF2A00"/>
<circle cx="149.6" cy="604.2" r="5.6" fill="#FF2A00"/>
<circle cx="157.8" cy="602.4" r="5.6" fill="#FF2A00"/>
<circle cx="166.3" cy="601" r="5.6" fill="#FF2A00"/>
<circle cx="174.4" cy="607.2" r="5.6" fill="#FF2A00"/>
<circle cx="182.6" cy="609" r="5.6" fill="#FF2A00"/>
<circle cx="190.8" cy="608.4" r="5.6" fill="#FF2A00"/>
<circle cx="198.7" cy="604.3" r="5.6" fill="#FF2A00"/>
<circle cx="207.0" cy="608.7" r="5.6" fill="#FF2A00"/>
<circle cx="215.0" cy="602" r="5.6" fill="#FF2A00"/>
<circle cx="223.4" cy="605.2" r="5.6" fill="#FF2A00"/>
<circle cx="232.0" cy="603.3" r="5.6" fill="#FF2A00"/>
<circle cx="149.6" cy="616.3" r="5.6" fill="#FF2A00"/>
<circle cx="157.8" cy="614.5" r="5.6" fill="#FF2A00"/>
<circle cx="166.1" cy="617.6" r="5.6" fill="#FF2A00"/>
<circle cx="174.4" cy="622.3" r="5.6" fill="#FF2A00"/>
<circle cx="182.6" cy="620" r="5.6" fill="#FF2A00"/>
<circle cx="190.8" cy="619.3" r="5.6" fill="#FF2A00"/>
<circle cx="198.7" cy="619.3" r="5.6" fill="#FF2A00"/>
<circle cx="207.4" cy="618.7" r="5.6" fill="#FF2A00"/>
<circle cx="215.0" cy="626.3" r="5.6" fill="#FF2A00"/>
<circle cx="223.4" cy="616.1" r="5.6" fill="#FF2A00"/>
<circle cx="232.0" cy="614.2" r="5.6" fill="#FF2A00"/>
<circle cx="174.1" cy="634" r="5.6" fill="#FF2A00"/>
<circle cx="182.6" cy="630.4" r="5.6" fill="#FF2A00"/>
<circle cx="190.8" cy="631.4" r="5.6" fill="#FF2A00"/>
<circle cx="198.7" cy="631.1" r="5.6" fill="#FF2A00"/>
<circle cx="207.4" cy="636" r="5.6" fill="#FF2A00"/>
<circle cx="215.0" cy="612.3" r="5.6" fill="#FF2A00"/>
<line x1="282" y1="430.0" x2="375" y2="430.0" stroke="#000" stroke-width="1.5"/>
<circle cx="287.60" cy="430.15" r="5.35" fill="none" stroke="#FA900A" stroke-width="1.8"/>
<circle cx="292.40" cy="430.15" r="5.35" fill="none" stroke="#FA900A" stroke-width="1.8"/>
<circle cx="297.20" cy="430.15" r="5.35" fill="none" stroke="#FA900A" stroke-width="1.8"/>
<circle cx="302.00" cy="430.15" r="5.35" fill="none" stroke="#FA900A" stroke-width="1.8"/>
<circle cx="306.80" cy="430.15" r="5.35" fill="none" stroke="#FA900A" stroke-width="1.8"/>
<circle cx="311.60" cy="430.15" r="5.35" fill="none" stroke="#FA900A" stroke-width="1.8"/>
<circle cx="316.40" cy="430.15" r="5.35" fill="none" stroke="#FA900A" stroke-width="1.8"/>
<circle cx="321.20" cy="430.15" r="5.35" fill="none" stroke="#FA900A" stroke-width="1.8"/>
<circle cx="326.00" cy="430.15" r="5.35" fill="none" stroke="#FA900A" stroke-width="1.8"/>
<circle cx="330.80" cy="430.15" r="5.35" fill="none" stroke="#FA900A" stroke-width="1.8"/>
<circle cx="335.60" cy="430.15" r="5.35" fill="none" stroke="#FA900A" stroke-width="1.8"/>
<circle cx="340.40" cy="430.15" r="5.35" fill="none" stroke="#FA900A" stroke-width="1.8"/>
<circle cx="345.20" cy="430.15" r="5.35" fill="none" stroke="#FA900A" stroke-width="1.8"/>
<circle cx="350.00" cy="430.15" r="5.35" fill="none" stroke="#FA900A" stroke-width="1.8"/>
<circle cx="354.80" cy="430.15" r="5.35" fill="none" stroke="#FA900A" stroke-width="1.8"/>
<circle cx="359.60" cy="430.15" r="5.35" fill="none" stroke="#FA900A" stroke-width="1.8"/>
<circle cx="364.40" cy="430.15" r="5.35" fill="none" stroke="#FA900A" stroke-width="1.8"/>
<circle cx="369.20" cy="430.15" r="5.35" fill="none" stroke="#FA900A" stroke-width="1.8"/>
<circle cx="328.1" cy="556.9" r="5.45" fill="none" stroke="#FA900A" stroke-width="1.8"/>
<circle cx="320.7" cy="572.6" r="5.45" fill="none" stroke="#FA900A" stroke-width="1.8"/>
<circle cx="325.7" cy="570.7" r="5.45" fill="none" stroke="#FA900A" stroke-width="1.8"/>
<circle cx="330.7" cy="575" r="5.45" fill="none" stroke="#FA900A" stroke-width="1.8"/>
<circle cx="335.7" cy="574.7" r="5.45" fill="none" stroke="#FA900A" stroke-width="1.8"/>
<circle cx="325.4" cy="583.6" r="5.45" fill="none" stroke="#FA900A" stroke-width="1.8"/>
<circle cx="320.7" cy="592.1" r="5.45" fill="none" stroke="#FA900A" stroke-width="1.8"/>
<circle cx="325.7" cy="594.3" r="5.45" fill="none" stroke="#FA900A" stroke-width="1.8"/>
<circle cx="330.7" cy="600" r="5.45" fill="none" stroke="#FA900A" stroke-width="1.8"/>
<circle cx="335.7" cy="598.9" r="5.45" fill="none" stroke="#FA900A" stroke-width="1.8"/>
<circle cx="320.7" cy="602.1" r="5.45" fill="none" stroke="#FA900A" stroke-width="1.8"/>
<circle cx="325.4" cy="610.7" r="5.45" fill="none" stroke="#FA900A" stroke-width="1.8"/>
<circle cx="330.7" cy="625.7" r="5.45" fill="none" stroke="#FA900A" stroke-width="1.8"/>
<circle cx="325.4" cy="633.9" r="5.45" fill="none" stroke="#FA900A" stroke-width="1.8"/>
<line x1="418" y1="430.2" x2="513" y2="430.2" stroke="#000" stroke-width="1.5"/>
<rect x="419.100" y="424.95" width="11.625" height="10.3" fill="none" stroke="#168AFF" stroke-width="1.8"/>
<rect x="422.975" y="424.95" width="11.625" height="10.3" fill="none" stroke="#168AFF" stroke-width="1.8"/>
<rect x="426.850" y="424.95" width="11.625" height="10.3" fill="none" stroke="#168AFF" stroke-width="1.8"/>
<rect x="430.725" y="424.95" width="11.625" height="10.3" fill="none" stroke="#168AFF" stroke-width="1.8"/>
<rect x="434.600" y="424.95" width="11.625" height="10.3" fill="none" stroke="#168AFF" stroke-width="1.8"/>
<rect x="438.475" y="424.95" width="11.625" height="10.3" fill="none" stroke="#168AFF" stroke-width="1.8"/>
<rect x="442.350" y="424.95" width="11.625" height="10.3" fill="none" stroke="#168AFF" stroke-width="1.8"/>
<rect x="446.225" y="424.95" width="11.625" height="10.3" fill="none" stroke="#168AFF" stroke-width="1.8"/>
<rect x="450.100" y="424.95" width="11.625" height="10.3" fill="none" stroke="#168AFF" stroke-width="1.8"/>
<rect x="453.975" y="424.95" width="11.625" height="10.3" fill="none" stroke="#168AFF" stroke-width="1.8"/>
<rect x="457.850" y="424.95" width="11.625" height="10.3" fill="none" stroke="#168AFF" stroke-width="1.8"/>
<rect x="461.725" y="424.95" width="11.625" height="10.3" fill="none" stroke="#168AFF" stroke-width="1.8"/>
<rect x="465.600" y="424.95" width="11.625" height="10.3" fill="none" stroke="#168AFF" stroke-width="1.8"/>
<rect x="469.475" y="424.95" width="11.625" height="10.3" fill="none" stroke="#168AFF" stroke-width="1.8"/>
<rect x="473.350" y="424.95" width="11.625" height="10.3" fill="none" stroke="#168AFF" stroke-width="1.8"/>
<rect x="477.225" y="424.95" width="11.625" height="10.3" fill="none" stroke="#168AFF" stroke-width="1.8"/>
<rect x="481.100" y="424.95" width="11.625" height="10.3" fill="none" stroke="#168AFF" stroke-width="1.8"/>
<rect x="484.975" y="424.95" width="11.625" height="10.3" fill="none" stroke="#168AFF" stroke-width="1.8"/>
<rect x="488.850" y="424.95" width="11.625" height="10.3" fill="none" stroke="#168AFF" stroke-width="1.8"/>
<rect x="492.725" y="424.95" width="11.625" height="10.3" fill="none" stroke="#168AFF" stroke-width="1.8"/>
<rect x="496.600" y="424.95" width="11.625" height="10.3" fill="none" stroke="#168AFF" stroke-width="1.8"/>
<rect x="500.475" y="424.95" width="11.625" height="10.3" fill="none" stroke="#168AFF" stroke-width="1.8"/>
<rect x="458.25" y="577.65" width="10.9" height="10.9" fill="none" stroke="#168AFF" stroke-width="1.85"/>
<rect x="462.15" y="577.55" width="10.9" height="10.9" fill="none" stroke="#168AFF" stroke-width="1.85"/>
<rect x="462.15" y="591.55" width="10.9" height="10.9" fill="none" stroke="#168AFF" stroke-width="1.85"/>
<rect x="458.25" y="595.95" width="10.9" height="10.9" fill="none" stroke="#168AFF" stroke-width="1.85"/>
<rect x="462.15" y="602.65" width="10.9" height="10.9" fill="none" stroke="#168AFF" stroke-width="1.85"/>
<rect x="458.25" y="606.15" width="10.9" height="10.9" fill="none" stroke="#168AFF" stroke-width="1.85"/>
<rect x="462.15" y="610.15" width="10.9" height="10.9" fill="none" stroke="#168AFF" stroke-width="1.85"/>
<rect x="458.25" y="612.45" width="10.9" height="10.9" fill="none" stroke="#168AFF" stroke-width="1.85"/>
<rect x="460.15" y="628.95" width="10.9" height="10.9" fill="none" stroke="#168AFF" stroke-width="1.85"/>
<rect x="460.15" y="647.75" width="10.9" height="10.9" fill="none" stroke="#168AFF" stroke-width="1.85"/>
<line x1="557.6" y1="612.5" x2="648.2" y2="612.5" stroke="#000" stroke-width="1.5"/>
<circle cx="614" cy="580.6" r="5.45" fill="none" stroke="#FA900A" stroke-width="1.8"/>
<circle cx="606.8" cy="584.4" r="5.45" fill="none" stroke="#FA900A" stroke-width="1.8"/>
<circle cx="599" cy="588.8" r="5.45" fill="none" stroke="#FA900A" stroke-width="1.8"/>
<circle cx="614" cy="593.8" r="5.45" fill="none" stroke="#FA900A" stroke-width="1.8"/>
<circle cx="569.6" cy="603.2" r="5.45" fill="none" stroke="#FA900A" stroke-width="1.8"/>
<circle cx="561.8" cy="610.4" r="5.45" fill="none" stroke="#FA900A" stroke-width="1.8"/>
<circle cx="576.8" cy="608.2" r="5.45" fill="none" stroke="#FA900A" stroke-width="1.8"/>
<circle cx="584.4" cy="607" r="5.45" fill="none" stroke="#FA900A" stroke-width="1.8"/>
<circle cx="599" cy="605.2" r="5.45" fill="none" stroke="#FA900A" stroke-width="1.8"/>
<circle cx="606.8" cy="610" r="5.45" fill="none" stroke="#FA900A" stroke-width="1.8"/>
<circle cx="614" cy="610" r="5.45" fill="none" stroke="#FA900A" stroke-width="1.8"/>
<circle cx="621.8" cy="604.6" r="5.45" fill="none" stroke="#FA900A" stroke-width="1.8"/>
<circle cx="629" cy="601.6" r="5.45" fill="none" stroke="#FA900A" stroke-width="1.8"/>
<circle cx="636.2" cy="601" r="5.45" fill="none" stroke="#FA900A" stroke-width="1.8"/>
<circle cx="644" cy="601" r="5.45" fill="none" stroke="#FA900A" stroke-width="1.8"/>
<circle cx="569.6" cy="616" r="5.45" fill="none" stroke="#FA900A" stroke-width="1.8"/>
<circle cx="576.8" cy="619.6" r="5.45" fill="none" stroke="#FA900A" stroke-width="1.8"/>
<circle cx="584.4" cy="619" r="5.45" fill="none" stroke="#FA900A" stroke-width="1.8"/>
<circle cx="599" cy="619" r="5.45" fill="none" stroke="#FA900A" stroke-width="1.8"/>
<circle cx="561.8" cy="623.8" r="5.45" fill="none" stroke="#FA900A" stroke-width="1.8"/>
<circle cx="591.8" cy="628.6" r="5.45" fill="none" stroke="#FA900A" stroke-width="1.8"/>
<circle cx="606.8" cy="625.6" r="5.45" fill="none" stroke="#FA900A" stroke-width="1.8"/>
<circle cx="614" cy="623.8" r="5.45" fill="none" stroke="#FA900A" stroke-width="1.8"/>
<circle cx="621.8" cy="625" r="5.45" fill="none" stroke="#FA900A" stroke-width="1.8"/>
<circle cx="629" cy="623.8" r="5.45" fill="none" stroke="#FA900A" stroke-width="1.8"/>
<circle cx="636.2" cy="622.6" r="5.45" fill="none" stroke="#FA900A" stroke-width="1.8"/>
<circle cx="644" cy="625" r="5.45" fill="none" stroke="#FA900A" stroke-width="1.8"/>
<circle cx="621.8" cy="614.2" r="5.45" fill="none" stroke="#FA900A" stroke-width="1.8"/>
<circle cx="629" cy="613" r="5.45" fill="none" stroke="#FA900A" stroke-width="1.8"/>
<circle cx="636.2" cy="611.8" r="5.45" fill="none" stroke="#FA900A" stroke-width="1.8"/>
<circle cx="644" cy="614.8" r="5.45" fill="none" stroke="#FA900A" stroke-width="1.8"/>
<circle cx="591.8" cy="615" r="5.45" fill="none" stroke="#FA900A" stroke-width="1.8"/>
<line x1="693.8" y1="615.6" x2="786.6" y2="615.6" stroke="#000" stroke-width="1.5"/>
<rect x="726.10" y="424.95" width="11.3" height="10.3" fill="none" stroke="#168AFF" stroke-width="1.8"/>
<rect x="731.75" y="424.95" width="11.3" height="10.3" fill="none" stroke="#168AFF" stroke-width="1.8"/>
<rect x="737.40" y="424.95" width="11.3" height="10.3" fill="none" stroke="#168AFF" stroke-width="1.8"/>
<rect x="743.05" y="424.95" width="11.3" height="10.3" fill="none" stroke="#168AFF" stroke-width="1.8"/>
<rect x="734.95" y="517.85" width="10.9" height="10.9" fill="none" stroke="#168AFF" stroke-width="1.85"/>
<rect x="740.75" y="566.75" width="10.9" height="10.9" fill="none" stroke="#168AFF" stroke-width="1.85"/>
<rect x="728.85" y="572.95" width="10.9" height="10.9" fill="none" stroke="#168AFF" stroke-width="1.85"/>
<rect x="723.15" y="583.95" width="10.9" height="10.9" fill="none" stroke="#168AFF" stroke-width="1.85"/>
<rect x="746.65" y="580.95" width="10.9" height="10.9" fill="none" stroke="#168AFF" stroke-width="1.85"/>
<rect x="728.95" y="588.55" width="10.9" height="10.9" fill="none" stroke="#168AFF" stroke-width="1.85"/>
<rect x="740.85" y="590.35" width="10.9" height="10.9" fill="none" stroke="#168AFF" stroke-width="1.85"/>
<rect x="693.85" y="613.05" width="10.9" height="10.9" fill="none" stroke="#168AFF" stroke-width="1.85"/>
<rect x="699.95" y="612.95" width="10.9" height="10.9" fill="none" stroke="#168AFF" stroke-width="1.85"/>
<rect x="705.95" y="609.75" width="10.9" height="10.9" fill="none" stroke="#168AFF" stroke-width="1.85"/>
<rect x="705.95" y="618.95" width="10.9" height="10.9" fill="none" stroke="#168AFF" stroke-width="1.85"/>
<rect x="711.45" y="613.85" width="10.9" height="10.9" fill="none" stroke="#168AFF" stroke-width="1.85"/>
<rect x="717.55" y="614.95" width="10.9" height="10.9" fill="none" stroke="#168AFF" stroke-width="1.85"/>
<rect x="723.55" y="614.05" width="10.9" height="10.9" fill="none" stroke="#168AFF" stroke-width="1.85"/>
<rect x="729.05" y="611.55" width="10.9" height="10.9" fill="none" stroke="#168AFF" stroke-width="1.85"/>
<rect x="729.05" y="623.25" width="10.9" height="10.9" fill="none" stroke="#168AFF" stroke-width="1.85"/>
<rect x="735.15" y="612.55" width="10.9" height="10.9" fill="none" stroke="#168AFF" stroke-width="1.85"/>
<rect x="740.75" y="610.65" width="10.9" height="10.9" fill="none" stroke="#168AFF" stroke-width="1.85"/>
<rect x="740.95" y="619.75" width="10.9" height="10.9" fill="none" stroke="#168AFF" stroke-width="1.85"/>
<rect x="746.75" y="603.75" width="10.9" height="10.9" fill="none" stroke="#168AFF" stroke-width="1.85"/>
<rect x="746.75" y="616.75" width="10.9" height="10.9" fill="none" stroke="#168AFF" stroke-width="1.85"/>
<rect x="752.75" y="610.95" width="10.9" height="10.9" fill="none" stroke="#168AFF" stroke-width="1.85"/>
<rect x="752.75" y="620.95" width="10.9" height="10.9" fill="none" stroke="#168AFF" stroke-width="1.85"/>
<rect x="763.95" y="604.55" width="10.9" height="10.9" fill="none" stroke="#168AFF" stroke-width="1.85"/>
<rect x="763.95" y="616.45" width="10.9" height="10.9" fill="none" stroke="#168AFF" stroke-width="1.85"/>
<rect x="770.05" y="607.95" width="10.9" height="10.9" fill="none" stroke="#168AFF" stroke-width="1.85"/>
<rect x="776.35" y="607.95" width="10.9" height="10.9" fill="none" stroke="#168AFF" stroke-width="1.85"/>
</svg>
</body></html>
